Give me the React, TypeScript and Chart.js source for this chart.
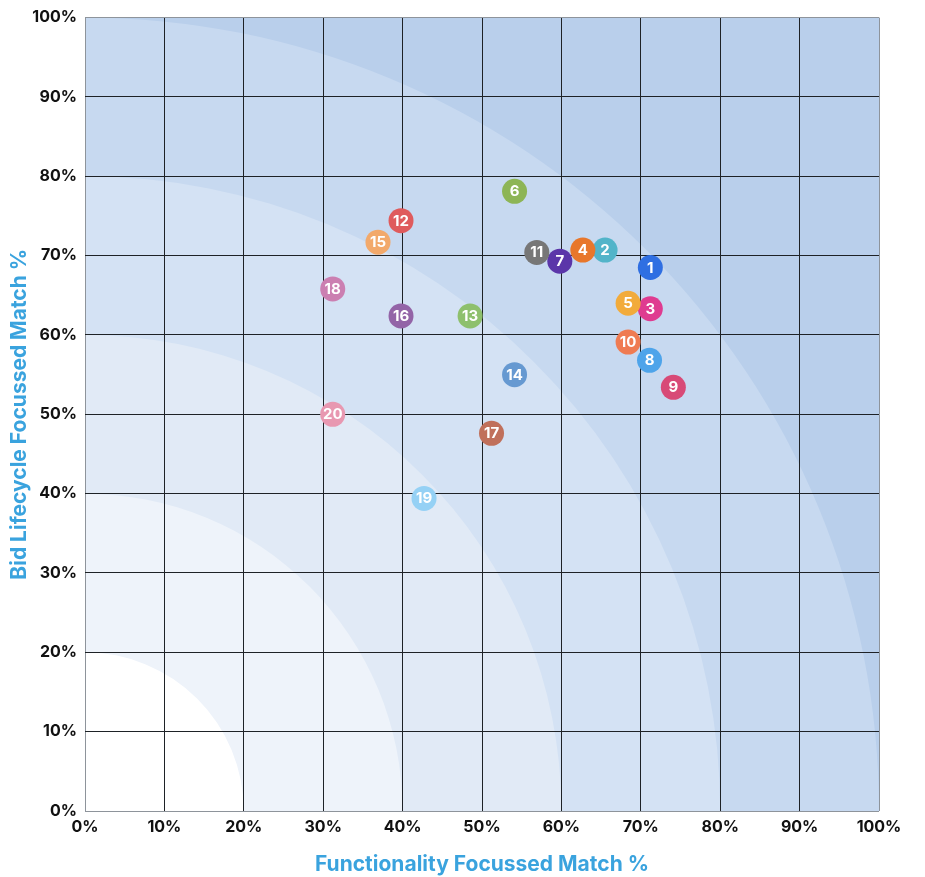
import { useEffect, useRef } from 'react';
import { Chart, registerables } from 'chart.js';

Chart.register(...registerables);

const pointLabels = ['1', '2', '3', '4', '5', '6', '7', '8', '9', '10', '11', '12', '13', '14', '15', '16', '17', '18', '19', '20'];
const functionalityMatch = [71.2, 65.5, 71.2, 62.7, 68.4, 54.1, 59.8, 71.1, 74.1, 68.4, 56.9, 39.8, 48.5, 54.1, 36.9, 39.8, 51.2, 31.2, 42.7, 31.2];
const bidLifecycleMatch = [68.5, 70.7, 63.3, 70.7, 64.0, 78.1, 69.3, 56.8, 53.4, 59.1, 70.4, 74.4, 62.4, 55.0, 71.7, 62.4, 47.6, 65.8, 39.4, 50.0];
const pointColors = [
  '#2f6fe2', '#52b4c9', '#df3b90', '#e8772b', '#f2ab3b',
  '#8db556', '#5b36a9', '#4ea4ea', '#d84a77', '#ef7b52',
  '#777777', '#df5b5d', '#8ec06d', '#6699d1', '#f2a96b',
  '#9364a7', '#c0705b', '#cb7fb1', '#95d1f5', '#e898b1',
];
const tickValues = [0, 10, 20, 30, 40, 50, 60, 70, 80, 90, 100];
const bandRadii = [100, 80, 60, 40, 20];
const bandColors = ['#c7d9f0', '#d4e2f4', '#e1eaf6', '#eef3fa', '#ffffff'];
const outerBandColor = '#b9cfeb';

const FONT = 'Inter, "Open Sans", sans-serif';

const bandsPlugin = {
  id: 'bands',
  beforeDraw(chart: any) {
    const { ctx, chartArea, scales } = chart;
    const xs = scales.x;
    const ys = scales.y;
    const x0 = xs.getPixelForValue(0);
    const y0 = ys.getPixelForValue(0);
    ctx.save();
    ctx.beginPath();
    ctx.rect(chartArea.left, chartArea.top, chartArea.right - chartArea.left, chartArea.bottom - chartArea.top);
    ctx.clip();
    ctx.fillStyle = outerBandColor;
    ctx.fillRect(chartArea.left, chartArea.top, chartArea.right - chartArea.left, chartArea.bottom - chartArea.top);
    bandRadii.forEach((r, i) => {
      const rx = xs.getPixelForValue(r) - x0;
      const ry = y0 - ys.getPixelForValue(r);
      ctx.beginPath();
      ctx.moveTo(x0, y0);
      ctx.ellipse(x0, y0, rx, ry, 0, 0, Math.PI * 2);
      ctx.closePath();
      ctx.fillStyle = bandColors[i];
      ctx.fill();
    });
    ctx.restore();
  },
};

const labelsPlugin = {
  id: 'pointNumbers',
  afterDatasetsDraw(chart: any) {
    const { ctx } = chart;
    const meta = chart.getDatasetMeta(0);
    ctx.save();
    ctx.fillStyle = '#ffffff';
    ctx.font = `700 15px ${FONT}`;
    ctx.textAlign = 'center';
    ctx.textBaseline = 'middle';
    meta.data.forEach((el: any, i: number) => {
      ctx.fillText(pointLabels[i], el.x, el.y + 0.5);
    });
    ctx.restore();
  },
};

export default function App() {
  const ref = useRef<HTMLCanvasElement | null>(null);

  useEffect(() => {
    if (!ref.current) return;
    const gridColor = (c: any) => (c.tick && (c.tick.value === 0 || c.tick.value === 100) ? '#8e949b' : '#1e2226');
    const chart = new Chart(ref.current, {
      type: 'scatter',
      data: {
        datasets: [
          {
            data: functionalityMatch.map((x, i) => ({ x, y: bidLifecycleMatch[i] })),
            backgroundColor: pointColors,
            borderWidth: 0,
            pointRadius: 12.5,
            pointHoverRadius: 12.5,
          },
        ],
      },
      options: {
        animation: false,
        responsive: false,
        devicePixelRatio: 1,
        layout: { padding: { top: 17, right: 46, bottom: 0, left: 0 } },
        plugins: { legend: { display: false }, tooltip: { enabled: false } },
        scales: {
          x: {
            type: 'linear',
            min: 0,
            max: 100,
            afterBuildTicks: (s: any) => {
              s.ticks = tickValues.map((v) => ({ value: v }));
            },
            afterFit: (s: any) => {
              s.height = 66;
            },
            grid: { color: gridColor, lineWidth: 1, drawTicks: false },
            border: { display: false },
            ticks: {
              padding: 7,
              color: '#111111',
              font: { family: FONT, size: 16, weight: 700 },
              callback: (v: any) => `${v}%`,
              maxRotation: 0,
            },
            title: {
              display: true,
              text: 'Functionality Focussed Match %',
              color: '#3aa3de',
              font: { family: FONT, size: 21, weight: 700, lineHeight: 1 },
              padding: { top: 0, bottom: 2 },
            },
          },
          y: {
            type: 'linear',
            min: 0,
            max: 100,
            afterBuildTicks: (s: any) => {
              s.ticks = tickValues.map((v) => ({ value: v }));
            },
            afterFit: (s: any) => {
              s.width = 85;
            },
            grid: { color: gridColor, lineWidth: 1, drawTicks: false },
            border: { display: false },
            ticks: {
              padding: 8,
              color: '#111111',
              font: { family: FONT, size: 16, weight: 700 },
              callback: (v: any) => `${v}%`,
            },
            title: {
              display: true,
              text: 'Bid Lifecycle Focussed Match %',
              color: '#3aa3de',
              font: { family: FONT, size: 21, weight: 700, lineHeight: 1 },
              padding: { top: 9, bottom: 0 },
            },
          },
        },
      },
      plugins: [bandsPlugin, labelsPlugin],
    });
    return () => chart.destroy();
  }, []);

  return (
    <div style={{ position: 'fixed', left: 0, top: 0, width: 925, height: 877, background: '#ffffff' }}>
      <canvas ref={ref} width={925} height={877} style={{ display: 'block', width: 925, height: 877 }} />
    </div>
  );
}
